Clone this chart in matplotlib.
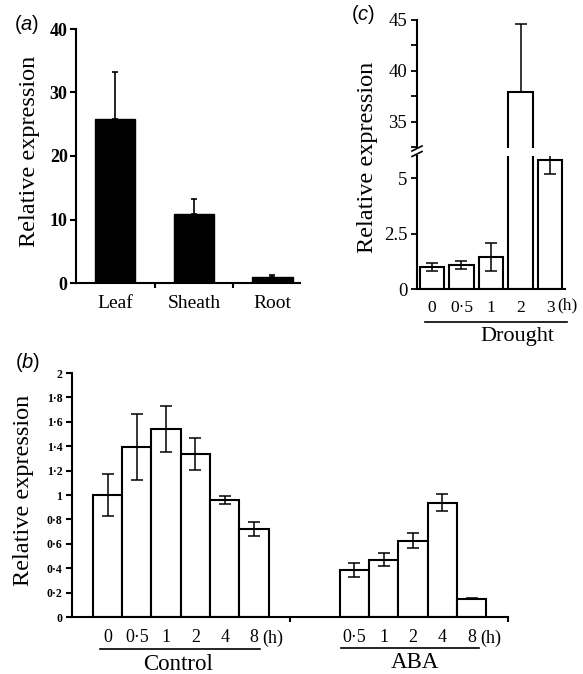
import matplotlib
matplotlib.use("Agg")
import matplotlib.pyplot as plt
import numpy as np
from matplotlib.lines import Line2D

plt.rcParams['font.family'] = ['Liberation Serif', 'DejaVu Serif']
plt.rcParams['mathtext.fontset'] = 'custom'
plt.rcParams['mathtext.rm'] = 'Liberation Sans'
plt.rcParams['mathtext.it'] = 'Liberation Sans:italic'

# ---------------- data ----------------
# panel (a)
tissues = ['Leaf', 'Sheath', 'Root']
tissue_vals = [25.8, 10.9, 1.0]
tissue_err = [7.4, 2.3, 0.2]

# panel (b)
control_labels = ['0', '0·5', '1', '2', '4', '8']
control_vals = [1.00, 1.39, 1.54, 1.335, 0.96, 0.72]
control_err = [0.17, 0.27, 0.19, 0.13, 0.03, 0.055]
aba_labels = ['0·5', '1', '2', '4', '8']
aba_vals = [0.385, 0.47, 0.625, 0.935, 0.15]
aba_err = [0.055, 0.055, 0.06, 0.07, 0.005]
b_yticks = [0, 0.2, 0.4, 0.6, 0.8, 1.0, 1.2, 1.4, 1.6, 1.8, 2.0]
b_yticklabels = ['0', '0·2', '0·4', '0·6', '0·8', '1', '1·2', '1·4', '1·6', '1·8', '2']

# panel (c)
drought_labels = ['0', '0·5', '1', '2', '3']
drought_vals = [1.0, 1.08, 1.45, 37.9, 5.8]
drought_err_low = [0.17, 0.18, 0.63, 0.0, 0.6]
drought_err_up = [0.17, 0.18, 0.63, 6.7, 0.6]

# ---------------- layout helpers ----------------
W, H = 583, 674
fig = plt.figure(figsize=(W / 100, H / 100), dpi=100)


def rect(l, t, r, b):
    return [l / W, 1 - b / H, (r - l) / W, (b - t) / H]


def fx(x):
    return x / W


def fy(y):
    return 1 - y / H


def hline(x0, x1, y, lw=1.2):
    fig.add_artist(Line2D([fx(x0), fx(x1)], [fy(y), fy(y)], color='black', lw=lw,
                          transform=fig.transFigure))


LW = 1.5
YLAB = 17.5

# ---------------- panel (a) ----------------
ax_a = fig.add_axes(rect(76, 29, 300, 283))
xa = np.arange(len(tissues))
ax_a.bar(xa, tissue_vals, width=0.51, color='black', edgecolor='black')
ax_a.errorbar(xa, tissue_vals, yerr=[[0] * 3, tissue_err], fmt='none', ecolor='black',
              elinewidth=1.2, capsize=2.5, capthick=1.2)
ax_a.set_xlim(-0.5, 2.35)
ax_a.set_ylim(0, 40)
ax_a.set_yticks([0, 10, 20, 30, 40])
ax_a.set_yticklabels(['0', '10', '20', '30', '40'], fontsize=13, fontweight='bold')
ax_a.set_xticks(xa)
ax_a.set_xticklabels(tissues, fontsize=14)
ax_a.set_xticks([0.5, 1.5], minor=True)
ax_a.tick_params(axis='x', which='major', length=0, pad=9)
ax_a.tick_params(axis='x', which='minor', length=3.5, width=1.5, direction='out')
ax_a.tick_params(axis='y', length=4, width=1.5, direction='out', pad=2)
for s in ['top', 'right']:
    ax_a.spines[s].set_visible(False)
for s in ['left', 'bottom']:
    ax_a.spines[s].set_linewidth(LW)
fig.text(fx(30), fy(151), 'Relative expression', rotation=90, ha='center', va='center',
         fontsize=YLAB)
fig.text(fx(27), fy(24), r'$(\mathit{a})$', ha='center', va='center', fontsize=14.5)

# ---------------- panel (b) ----------------
ax_b = fig.add_axes(rect(72, 373, 508, 617))
step = 29.3
xc = np.arange(len(control_vals))
xab = np.arange(len(aba_vals)) + 8.43
ax_b.bar(xc, control_vals, width=1.0, color='white', edgecolor='black', linewidth=LW)
ax_b.bar(xab, aba_vals, width=1.0, color='white', edgecolor='black', linewidth=LW)
ax_b.errorbar(xc, control_vals, yerr=control_err, fmt='none', ecolor='black',
              elinewidth=1.1, capsize=4, capthick=1.1)
ax_b.errorbar(xab, aba_vals, yerr=aba_err, fmt='none', ecolor='black',
              elinewidth=1.1, capsize=4, capthick=1.1)
xl0 = (72 - 107.5) / step
xl1 = (508 - 107.5) / step
ax_b.set_xlim(xl0, xl1)
ax_b.set_ylim(0, 2)
ax_b.set_yticks(b_yticks)
ax_b.set_yticklabels(b_yticklabels, fontsize=8.5, fontweight='bold')
ax_b.set_xticks(list(xc) + list(xab))
ax_b.set_xticklabels(control_labels + aba_labels, fontsize=13)
ax_b.set_xticks([(290 - 107.5) / step, xl1], minor=True)
ax_b.tick_params(axis='x', which='major', length=0, pad=9)
ax_b.tick_params(axis='x', which='minor', length=3.5, width=1.5, direction='out')
ax_b.tick_params(axis='y', length=4, width=1.5, direction='out', pad=3)
for s in ['top', 'right']:
    ax_b.spines[s].set_visible(False)
for s in ['left', 'bottom']:
    ax_b.spines[s].set_linewidth(LW)
fig.text(fx(24), fy(490), 'Relative expression', rotation=90, ha='center', va='center',
         fontsize=YLAB)
fig.text(fx(28), fy(363), r'$(\mathit{b})$', ha='center', va='center', fontsize=14.5)
fig.text(fx(262), fy(638), '(h)', ha='left', va='center', fontsize=13)
fig.text(fx(480), fy(638), '(h)', ha='left', va='center', fontsize=13)
hline(100, 260, 649)
hline(341, 479, 648)
fig.text(fx(178), fy(664), 'Control', ha='center', va='center', fontsize=16.5)
fig.text(fx(415), fy(663), 'ABA', ha='center', va='center', fontsize=16.5)

# ---------------- panel (c) ----------------
ax_cl = fig.add_axes(rect(417, 156, 565, 289))
ax_cu = fig.add_axes(rect(417, 20, 565, 147.5))
xd = np.arange(len(drought_vals))
for ax in (ax_cl, ax_cu):
    ax.bar(xd, drought_vals, width=0.82, color='white', edgecolor='black', linewidth=LW)
    ax.errorbar(xd, drought_vals, yerr=[drought_err_low, drought_err_up], fmt='none',
                ecolor='black', elinewidth=1.1, capsize=4.3, capthick=1.1)
    ax.set_xlim(-0.5, 4.5)
    for s in ['top', 'right']:
        ax.spines[s].set_visible(False)
    ax.spines['left'].set_linewidth(LW)
    ax.tick_params(axis='y', length=4, width=1.3, direction='out', labelsize=13.5, pad=3)
ax_cl.set_ylim(0, 6.0)
ax_cl.set_yticks([0, 2.5, 5])
ax_cl.set_yticklabels(['0', '2.5', '5'])
ax_cl.spines['bottom'].set_linewidth(LW)
ax_cl.set_xticks(xd)
ax_cl.set_xticklabels(drought_labels, fontsize=12.5)
ax_cl.tick_params(axis='x', length=0, pad=8)
ax_cu.set_ylim(32.5, 45)
ax_cu.set_yticks([35, 40, 45])
ax_cu.set_yticklabels(['35', '40', '45'])
ax_cu.set_yticks([32.5, 37.5, 42.5], minor=True)
ax_cu.tick_params(axis='y', which='minor', length=4, width=1.3, direction='out')
ax_cu.spines['bottom'].set_visible(False)
ax_cu.set_xticks([])
# break marks
for yb in (148.5, 154):
    fig.add_artist(Line2D([fx(412), fx(422)], [fy(yb + 2.5), fy(yb - 2.5)], color='black',
                          lw=1.2, transform=fig.transFigure))
fig.text(fx(368), fy(157), 'Relative expression', rotation=90, ha='center', va='center',
         fontsize=YLAB)
fig.text(fx(363), fy(15), r'$(\mathit{c})$', ha='center', va='center', fontsize=14.5)
fig.text(fx(557), fy(305), '(h)', ha='left', va='center', fontsize=12.5)
hline(425, 567, 322)
fig.text(fx(517), fy(336), 'Drought', ha='center', va='center', fontsize=16)

fig.savefig('out.png', dpi=100)
